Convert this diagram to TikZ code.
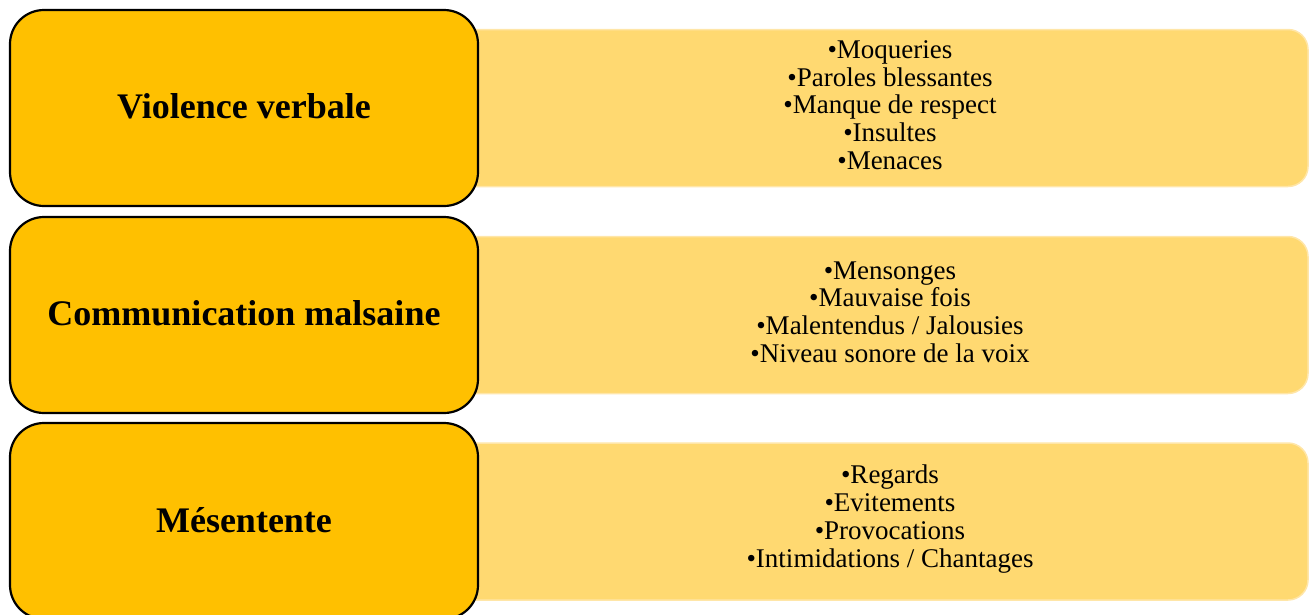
\documentclass[tikz,border=0pt]{standalone}
\usepackage{fontspec}
\setmainfont{Liberation Serif}
\definecolor{gold}{HTML}{FFC000}
\definecolor{palegold}{HTML}{FFD971}
\definecolor{haloedge}{HTML}{FFE6A8}
\begin{document}
\begin{tikzpicture}[x=1pt,y=-1pt,
  catbox/.style={draw=black, line width=2.2pt, fill=gold, rounded corners=34pt,
    minimum width=468pt, minimum height=196pt, inner sep=0pt,
    font=\fontsize{36}{40}\selectfont\bfseries},
  listbox/.style={draw=haloedge, line width=1.5pt, fill=palegold,
    rounded corners=20pt, minimum width=880pt, minimum height=157pt, inner sep=0pt},
  listtext/.style={align=center, inner sep=0pt,
    font=\fontsize{27}{27.7}\selectfont}
]
\useasboundingbox (0,0) rectangle (1310,614);
% light list panels (behind)
\node[listbox] (p1) at (868,108) {};
\node[listbox] (p2) at (868,315) {};
\node[listbox] (p3) at (868,521.5) {};
\node[listtext] (t1) at (890,105) {\textbullet Moqueries\\\textbullet Paroles blessantes\\\textbullet Manque de respect\\\textbullet Insultes\\\textbullet Menaces};
\node[listtext] (t2) at (890,312) {\textbullet Mensonges\\\textbullet Mauvaise fois\\\textbullet Malentendus / Jalousies\\\textbullet Niveau sonore de la voix};
\node[listtext] (t3) at (890,519) {\textbullet Regards\\\textbullet Evitements\\\textbullet Provocations\\\textbullet Intimidations / Chantages};
% category boxes
\node[catbox] (c1) at (244,108) {\raisebox{3pt}{Violence verbale}};
\node[catbox] (c2) at (244,315) {\raisebox{3pt}{Communication malsaine}};
\node[catbox] (c3) at (244,521) {\raisebox{3pt}{Mésentente}};
\end{tikzpicture}
\end{document}
